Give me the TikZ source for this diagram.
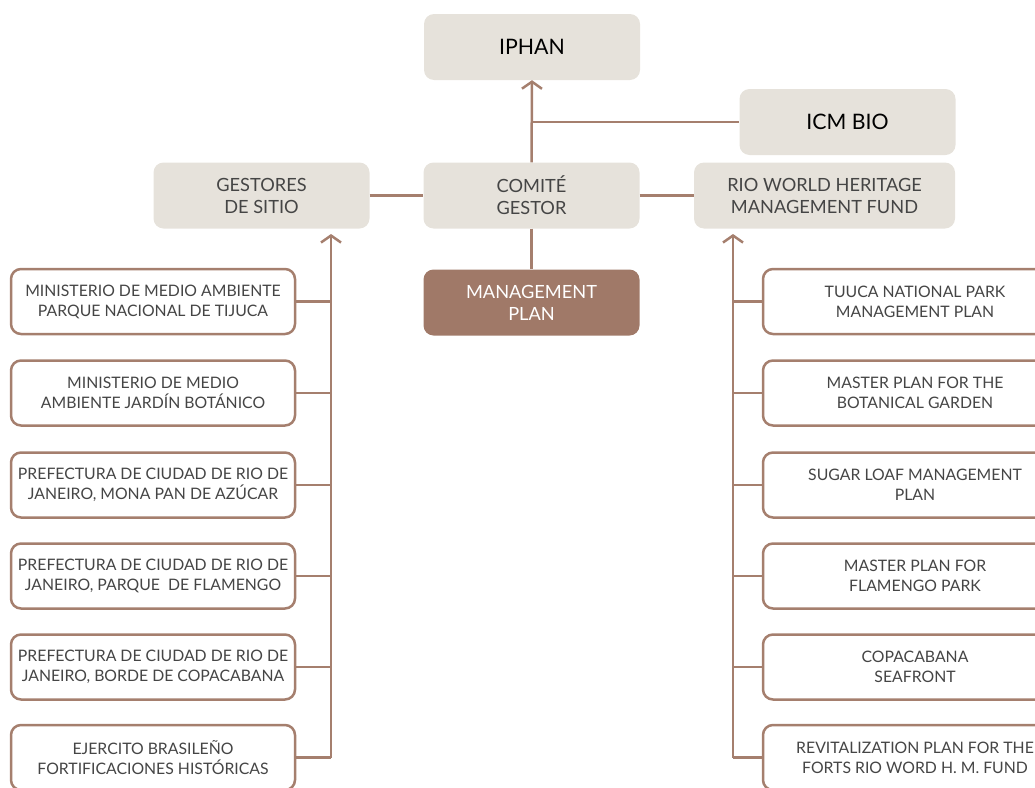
\documentclass[tikz,border=0pt]{standalone}
\usepackage{fontspec}
\setmainfont{Lato}
\usetikzlibrary{arrows.meta}
\definecolor{lineb}{HTML}{A57F6E}
\definecolor{boxfill}{HTML}{E6E2DB}
\definecolor{mgmt}{HTML}{A07968}
\definecolor{txt}{HTML}{454545}
\begin{document}
\begin{tikzpicture}[x=1pt,y=-1pt,
 topbox/.style={fill=boxfill, rounded corners=10pt, minimum width=216pt, minimum height=66pt, inner sep=0pt, align=center, text=txt, font=\fontsize{18.2}{22}\selectfont},
 bigtext/.style={text=black, font=\fontsize{21.3}{24}\selectfont},
 listbox/.style={draw=lineb, line width=2.5pt, fill=white, rounded corners=10pt, minimum width=284pt, minimum height=65pt, inner sep=0pt, align=center, text=txt, font=\fontsize{15.8}{20}\selectfont},
 rightbox/.style={listbox, minimum width=304pt},
 conn/.style={draw=lineb, line width=2.5pt},
 arr/.style={conn, -{Straight Barb[length=7pt,width=20pt,line width=2.5pt]}}]
\useasboundingbox (0,0) rectangle (1035,787);
% top nodes
\node[topbox, bigtext] (iphan) at (532,47) {IPHAN};
\node[topbox, bigtext] (icm) at (847.5,122) {ICM BIO};
\node[topbox] (gest) at (261.5,195.5) {GESTORES\\DE SITIO};
\node[topbox] (comite) at (531.5,195.5) {COMITÉ\\GESTOR};
\node[topbox, minimum width=261pt] (rio) at (824.5,195.5) {RIO WORLD HERITAGE\\MANAGEMENT FUND};
\node[topbox, fill=mgmt, text=white] (mp) at (531.5,302.5) {MANAGEMENT\\PLAN};
% top connectors
\draw[arr] (comite.north) -- (iphan.south);
\coordinate (j1) at (comite.north |- icm.west);
\draw[conn] (j1) -- (icm.west);
\draw[conn] (gest.east) -- (comite.west);
\draw[conn] (comite.east) -- (rio.west);
\draw[conn] (comite.south) -- (mp.north);
% left list
\node[listbox] (l1) at (153,301.5) {MINISTERIO DE MEDIO AMBIENTE\\PARQUE NACIONAL DE TIJUCA};
\node[listbox] (l2) at (153,393) {MINISTERIO DE MEDIO\\AMBIENTE JARDÍN BOTÁNICO};
\node[listbox] (l3) at (153,485) {PREFECTURA DE CIUDAD DE RIO DE\\JANEIRO, MONA PAN DE AZÚCAR};
\node[listbox] (l4) at (153,576) {PREFECTURA DE CIUDAD DE RIO DE\\JANEIRO, PARQUE\ \ DE FLAMENGO};
\node[listbox] (l5) at (153,667) {PREFECTURA DE CIUDAD DE RIO DE\\JANEIRO, BORDE DE COPACABANA};
\node[listbox] (l6) at (153,757.5) {EJERCITO BRASILEÑO\\FORTIFICACIONES HISTÓRICAS};
\coordinate (lt) at (331,234);
\coordinate (lb) at (331,757.5);
\draw[arr] (lb) -- (lt);
\foreach \n in {l1,l2,l3,l4,l5,l6} \draw[conn] (\n.east) -- (\n.east -| lt);
% right list
\node[rightbox] (r1) at (915,301.5) {TUUCA NATIONAL PARK\\MANAGEMENT PLAN};
\node[rightbox] (r2) at (915,393) {MASTER PLAN FOR THE\\BOTANICAL GARDEN};
\node[rightbox] (r3) at (915,485) {SUGAR LOAF MANAGEMENT\\PLAN};
\node[rightbox] (r4) at (915,576) {MASTER PLAN FOR\\FLAMENGO PARK};
\node[rightbox] (r5) at (915,667) {COPACABANA\\SEAFRONT};
\node[rightbox] (r6) at (915,757.5) {REVITALIZATION PLAN FOR THE\\FORTS RIO WORD H. M. FUND};
\coordinate (rt) at (733,234);
\coordinate (rb) at (733,757.5);
\draw[arr] (rb) -- (rt);
\foreach \n in {r1,r2,r3,r4,r5,r6} \draw[conn] (\n.west) -- (\n.west -| rt);
\end{tikzpicture}
\end{document}
